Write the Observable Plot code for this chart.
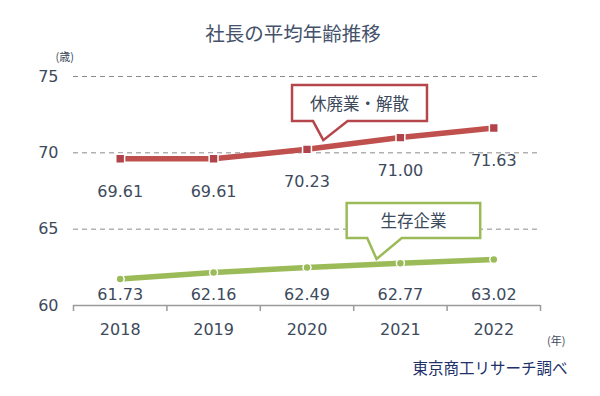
<!DOCTYPE html>
<html>
<head>
<meta charset="utf-8">
<script src="https://cdn.jsdelivr.net/npm/d3@7"></script>
<script src="https://cdn.jsdelivr.net/npm/@observablehq/plot@0.6"></script>
<style>
  html, body { margin: 0; padding: 0; background: #fff; }
  #chart { width: 600px; height: 396px; }
</style>
</head>
<body>
<div id="chart"></div>
<script>
const title = "社長の平均年齢推移";
const years = [2018, 2019, 2020, 2021, 2022];
const closedAges = [69.61, 69.61, 70.23, 71.00, 71.63];   // 休廃業・解散
const survivingAges = [61.73, 62.16, 62.49, 62.77, 63.02]; // 生存企業
const yTicks = [60, 65, 70, 75];
const seriesNames = ["休廃業・解散", "生存企業"];
const yUnit = "(歳)";
const xUnit = "(年)";
const source = "東京商工リサーチ調べ";

const RED = "#c0504d", RED_DARK = "#b0444a", GREEN = "#9bbb59";
const TEXT = "#3d4a5c";
const NUM_FONT = "DejaVu Sans, Verdana, sans-serif";
const CJK_FONT = "'Noto Sans CJK JP', sans-serif";

const closed = years.map((y, i) => ({year: y, age: closedAges[i]}));
const surviving = years.map((y, i) => ({year: y, age: survivingAges[i]}));
const bandEdges = d3.range(years.length + 1).map(i => years[0] - 0.5 + i);

const plot = Plot.plot({
  width: 600,
  height: 396,
  marginTop: 76,
  marginBottom: 91,
  marginLeft: 73,
  marginRight: 60,
  style: {fontFamily: NUM_FONT, background: "#fff", overflow: "visible"},
  x: {domain: [years[0] - 0.5, years[years.length - 1] + 0.5]},
  y: {domain: [60, 75]},
  marks: [
    Plot.ruleY([65, 70, 75], {stroke: "#8a8a8a", strokeWidth: 1, strokeDasharray: "5,4"}),
    Plot.ruleY([60], {stroke: "#9a9a9a", strokeWidth: 1.5}),
    Plot.axisY({ticks: yTicks, tickSize: 0, tickPadding: 15, fontSize: 16, fill: TEXT, label: null}),
    Plot.axisX({ticks: bandEdges, tickFormat: () => "", tickSize: 6, stroke: "#9a9a9a", strokeWidth: 1.5, label: null}),
    Plot.axisX({ticks: years, tickFormat: d => String(d), tickSize: 0, tickPadding: 18, fontSize: 16, fill: TEXT, label: null}),
    // lines
    Plot.line(closed, {x: "year", y: "age", stroke: RED, strokeWidth: 5.5}),
    Plot.dot(closed, {x: "year", y: "age", symbol: "square", r: 5, fill: RED_DARK, stroke: "#fff", strokeWidth: 1.5}),
    Plot.line(surviving, {x: "year", y: "age", stroke: GREEN, strokeWidth: 5.5}),
    Plot.dot(surviving, {x: "year", y: "age", r: 4, fill: GREEN, stroke: "#fff", strokeWidth: 1.5}),
    // value labels
    Plot.text(closed, {x: "year", y: "age", text: d => d.age.toFixed(2), dy: 33, fontSize: 16, fill: TEXT}),
    Plot.text(surviving, {x: "year", y: () => 60, text: d => d.age.toFixed(2), dy: -11, fontSize: 16, fill: TEXT}),
    // title and units
    Plot.text([title], {frameAnchor: "top", dx: -14, dy: -49, fontSize: 19.5, fill: "#45526a", fontFamily: CJK_FONT}),
    Plot.text([yUnit], {frameAnchor: "top-left", dx: -18, dy: -23, fontSize: 11, fill: TEXT, fontFamily: CJK_FONT}),
    Plot.text([xUnit], {frameAnchor: "bottom-right", dx: 25, dy: 39, fontSize: 11, fill: TEXT, fontFamily: CJK_FONT}),
    Plot.text([source], {frameAnchor: "bottom-right", dx: 27, dy: 68, fontSize: 15.5, fill: "#22306a", fontFamily: CJK_FONT, textAnchor: "end"})
  ]
});

// Callouts (annotation boxes with pointers), placed in data space via the plot's scales
const callouts = [
  {text: seriesNames[0], color: "#b5474c", x0: 2019.845, x1: 2021.29, y0: 74.41, y1: 72.05, b0: 2020.07, b1: 2020.44, tx: 2020.18, ty: 70.8},
  {text: seriesNames[1], color: GREEN, x0: 2020.43, x1: 2021.86, y0: 66.68, y1: 64.39, b0: 2020.65, b1: 2021.02, tx: 2020.75, ty: 63.01}
];
const sx = plot.scale("x"), sy = plot.scale("y");
const svg = d3.select(plot);
const g = svg.append("g");
for (const c of callouts) {
  const L = sx.apply(c.x0), R = sx.apply(c.x1), T = sy.apply(c.y0), B = sy.apply(c.y1);
  const p = [[L, T], [R, T], [R, B], [sx.apply(c.b1), B], [sx.apply(c.tx), sy.apply(c.ty)], [sx.apply(c.b0), B], [L, B]];
  g.append("path")
    .attr("d", "M" + p.map(q => q.join(",")).join("L") + "Z")
    .attr("fill", "#fff").attr("stroke", c.color).attr("stroke-width", 2.5).attr("stroke-linejoin", "miter");
  g.append("text")
    .attr("x", (L + R) / 2).attr("y", (T + B) / 2)
    .attr("text-anchor", "middle").attr("dominant-baseline", "central")
    .attr("font-family", CJK_FONT).attr("font-size", 16.5).attr("fill", TEXT)
    .text(c.text);
}

document.getElementById("chart").appendChild(plot);
</script>
</body>
</html>
